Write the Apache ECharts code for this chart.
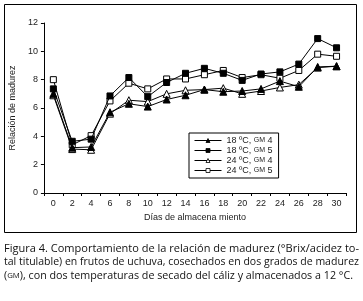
<!DOCTYPE html>
<html>
<head>
<meta charset="utf-8">
<script src="https://cdn.jsdelivr.net/npm/echarts@6/dist/echarts.min.js"></script>
<style>
  html, body { margin: 0; padding: 0; background: #fff; }
  #chart { width: 363px; height: 301px; }
</style>
</head>
<body>
<div id="chart"></div>
<script>
// dias de almacenamiento
const days = ['0', '2', '4', '6', '8', '10', '12', '14', '16', '18', '20', '22', '24', '26', '28', '30'];
const yTicks = [0, 2, 4, 6, 8, 10, 12];

const temps = ['18 ºC', '18 ºC', '24 ºC', '24 ºC'];
const grades = ['4', '5', '4', '5'];

const t18gm4 = [7.0, 3.2, 3.25, 5.7, 6.3, 6.1, 6.6, 6.9, 7.3, 7.15, 7.2, 7.35, 7.9, 7.5, 8.9, 8.95];
const t18gm5 = [7.35, 3.65, 3.8, 6.85, 8.15, 6.8, 7.8, 8.45, 8.8, 8.45, 7.95, 8.4, 8.55, 9.1, 10.9, 10.25];
const t24gm4 = [6.9, 3.1, 3.05, 5.6, 6.55, 6.45, 7.0, 7.25, 7.3, 7.4, 7.0, 7.2, 7.45, 7.65, 8.85, 8.95];
const t24gm5 = [8.0, 3.4, 4.05, 6.5, 7.75, 7.35, 8.05, 8.05, 8.35, 8.65, 8.15, 8.35, 8.1, 8.65, 9.8, 9.65];

// pie de figura; {s|...} = versalitas
const caption = [
  'Figura 4. Comportamiento de la relación de madurez (°Brix/acidez to-',
  'tal titulable) en frutos de uchuva, cosechados en dos grados de madurez',
  '({s|GM}), con dos temperaturas de secado del cáliz y almacenados a 12 °C.'
];

const chart = echarts.init(document.getElementById('chart'), null, {renderer: 'canvas'});

const FONT = 'Liberation Sans';
const CAP_FONT = 'Open Sans';
const seriesData = [t18gm4, t18gm5, t24gm4, t24gm5];
const symbols = ['triangle', 'rect', 'triangle', 'rect'];
const fills = ['#000', '#000', '#fff', '#fff'];
const names = temps.map((t, i) => t + ', GM ' + grades[i]);

const series = seriesData.map((d, i) => ({
  name: names[i],
  type: 'line',
  data: d,
  symbol: symbols[i],
  symbolSize: symbols[i] === 'rect' ? 6 : 7,
  lineStyle: { color: '#000', width: 1 },
  itemStyle: { color: fills[i], borderColor: '#000', borderWidth: 1 },
  emphasis: { disabled: true },
  z: 4 - i
}));

// estirar cada renglon al ancho de la caja (texto justificado)
const ctx = document.createElement('canvas').getContext('2d');
function lineWidth(line) {
  let w = 0;
  line.split(/(\{s\|[^}]*\})/).forEach(part => {
    const m = part.match(/^\{s\|([^}]*)\}$/);
    if (m) { ctx.font = '8px "' + CAP_FONT + '"'; w += ctx.measureText(m[1]).width; }
    else if (part) { ctx.font = '11px "' + CAP_FONT + '"'; w += ctx.measureText(part).width; }
  });
  return w;
}
const capTargets = [355, 355, 349];
const capText = caption.map((line, i) => ({
  type: 'text',
  x: 4,
  y: 243 + i * 13.5,
  scaleX: capTargets[i] / lineWidth(line),
  style: {
    text: line,
    rich: {
      s: { fontFamily: CAP_FONT, fontSize: 8, fill: '#111' }
    },
    fontFamily: CAP_FONT,
    fontSize: 11,
    fill: '#111'
  },
  silent: true
}));

const option = {
  animation: false,
  backgroundColor: '#fff',
  grid: { left: 42, right: 17, top: 23, bottom: 108 },
  xAxis: {
    type: 'category',
    data: days,
    boundaryGap: true,
    name: 'Días de almacena miento',
    nameLocation: 'middle',
    nameGap: 20,
    nameTextStyle: { fontFamily: FONT, fontSize: 9, color: '#222' },
    axisLine: { lineStyle: { color: '#000', width: 1 } },
    axisTick: { show: true, length: 3, lineStyle: { color: '#000' } },
    axisLabel: { fontFamily: FONT, fontSize: 9, color: '#222', margin: 6 },
    splitLine: { show: false }
  },
  yAxis: {
    type: 'value',
    min: yTicks[0],
    max: yTicks[yTicks.length - 1],
    interval: 2,
    name: 'Relación de madurez',
    nameLocation: 'middle',
    nameGap: 22,
    nameRotate: 90,
    nameTextStyle: { fontFamily: FONT, fontSize: 9, color: '#222' },
    axisLine: { show: true, lineStyle: { color: '#000', width: 1 } },
    axisTick: { show: true, length: 3, lineStyle: { color: '#000' } },
    axisLabel: { fontFamily: FONT, fontSize: 9, color: '#222', margin: 6 },
    splitLine: { show: false }
  },
  legend: {
    orient: 'vertical',
    left: 189,
    top: 133,
    padding: [3, 6, 3, 5],
    itemGap: 1,
    itemWidth: 27,
    itemHeight: 5,
    lineStyle: { width: 1 },
    itemStyle: { borderWidth: 0.8 },
    borderColor: '#000',
    borderWidth: 1,
    backgroundColor: '#fff',
    data: names,
    formatter: n => {
      const p = n.split(', GM ');
      return '{a|' + p[0] + ', }{b|GM}{a| ' + p[1] + '}';
    },
    textStyle: {
      rich: {
        a: { fontFamily: FONT, fontSize: 9, color: '#222', lineHeight: 11.5 },
        b: { fontFamily: FONT, fontSize: 7, color: '#222', lineHeight: 11.5 }
      }
    }
  },
  graphic: [
    {
      type: 'rect',
      shape: { x: 4.5, y: 4.5, width: 352, height: 228 },
      style: { fill: 'none', stroke: '#000', lineWidth: 1 },
      silent: true
    },
    ...capText
  ],
  series: series
};

chart.setOption(option);
</script>
</body>
</html>
